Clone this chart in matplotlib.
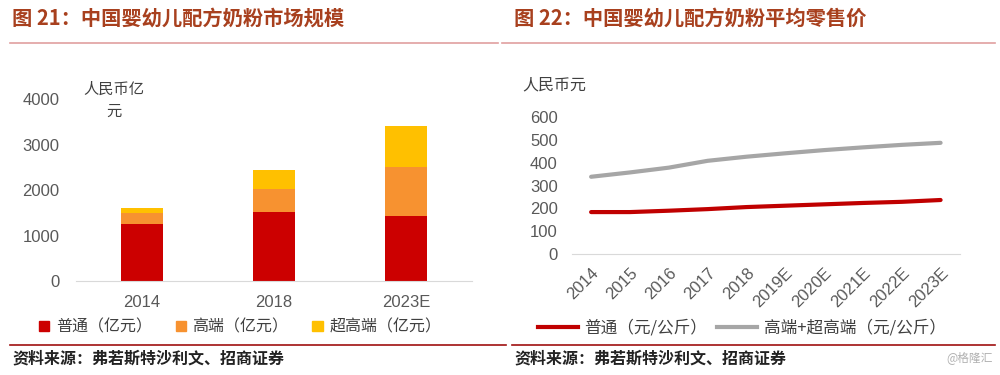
import matplotlib
matplotlib.use("Agg")
import matplotlib.pyplot as plt
from matplotlib.lines import Line2D
from matplotlib.patches import Patch
import numpy as np

plt.rcParams['font.family'] = ['Liberation Sans', 'Noto Sans CJK SC', 'DejaVu Sans']

# left chart: market size (亿元)
bar_years = ["2014", "2018", "2023E"]
normal = [1260, 1510, 1430]
premium = [245, 515, 1085]
super_premium = [95, 410, 905]

# right chart: average retail price (元/公斤)
line_years = ["2014", "2015", "2016", "2017", "2018",
              "2019E", "2020E", "2021E", "2022E", "2023E"]
price_normal = [184, 184, 190, 197, 206, 212, 218, 224, 229, 237]
price_high = [339, 358, 379, 409, 427, 442, 456, 468, 479, 488]

W, H = 1000, 375
fig = plt.figure(figsize=(W / 100, H / 100), dpi=100)

def px_axes(x0, y0, x1, y1):
    # pixel box (top-left origin) -> figure axes
    return fig.add_axes([x0 / W, 1 - y1 / H, (x1 - x0) / W, (y1 - y0) / H])

cjk = ['Noto Sans CJK SC', 'DejaVu Sans']
title_col = '#A8401E'
tick_col = '#595959'

# titles and rules
fig.text(12 / W, 1 - 18 / H, "图 21：中国婴幼儿配方奶粉市场规模", family=cjk,
         fontsize=14.6, fontweight='bold', color=title_col, va='center')
fig.text(514 / W, 1 - 18 / H, "图 22：中国婴幼儿配方奶粉平均零售价", family=cjk,
         fontsize=14.6, fontweight='bold', color=title_col, va='center')
for xa, xb in [(10, 498), (502, 995)]:
    fig.add_artist(Line2D([xa / W, xb / W], [1 - 43 / H] * 2, color='#E0A0A0', lw=1.2))
for xa, xb in [(10, 506), (512, 995)]:
    fig.add_artist(Line2D([xa / W, xb / W], [1 - 345 / H] * 2, color='#A01010', lw=1.2))
fig.text(12 / W, 1 - 358 / H, "资料来源：弗若斯特沙利文、招商证券", family=cjk,
         fontsize=11.5, fontweight='bold', color='#222222', va='center')
fig.text(514 / W, 1 - 358 / H, "资料来源：弗若斯特沙利文、招商证券", family=cjk,
         fontsize=11.5, fontweight='bold', color='#222222', va='center')
fig.text(993 / W, 1 - 358 / H, "@格隆汇", family=cjk, fontsize=8.5,
         color='#B0B0B0', va='center', ha='right')

# left: stacked bars
ax1 = px_axes(76, 99.3, 472, 281)
x = np.arange(len(bar_years))
bw = 0.315
ax1.bar(x, normal, bw, color='#CC0000')
ax1.bar(x, premium, bw, bottom=normal, color='#F79230')
ax1.bar(x, super_premium, bw, bottom=np.add(normal, premium), color='#FFC000')
ax1.set_xlim(-0.5, 2.5)
ax1.set_ylim(0, 4000)
ax1.set_yticks([0, 1000, 2000, 3000, 4000])
ax1.set_xticks(x)
ax1.set_xticklabels(bar_years)
for s in ['top', 'right', 'left']:
    ax1.spines[s].set_visible(False)
ax1.spines['bottom'].set_color('#D9D9D9')
ax1.tick_params(length=0, labelsize=12, colors=tick_col)
ax1.tick_params(axis='x', pad=10)
ax1.tick_params(axis='y', pad=12)
fig.text(114 / W, 1 - 100 / H, "人民币亿\n元", family=cjk,
         fontsize=11, color='#404040', ha='center', va='center', multialignment='center',
         linespacing=1.4)

handles1 = [Patch(color='#CC0000'), Patch(color='#F79230'), Patch(color='#FFC000')]
fig.legend(handles1, ["普通（亿元）", "高端（亿元）", "超高端（亿元）"],
           loc='center', bbox_to_anchor=(240 / W, 1 - 327 / H), ncol=3, frameon=False,
           prop={'family': cjk, 'size': 11.5}, labelcolor='#404040',
           handlelength=0.65, handleheight=0.65, handletextpad=0.4, columnspacing=1.5)

# right: lines
ax2 = px_axes(571.7, 117.3, 960, 254)
xl = np.arange(len(line_years))
ax2.plot(xl, price_normal, color='#C00000', lw=3, solid_capstyle='round')
ax2.plot(xl, price_high, color='#A6A6A6', lw=3, solid_capstyle='round')
ax2.set_xlim(-0.5, 9.5)
ax2.set_ylim(0, 600)
ax2.set_yticks(range(0, 601, 100))
ax2.set_xticks(xl)
ax2.set_xticklabels(line_years, rotation=45, ha='right', rotation_mode='anchor')
for s in ['top', 'right', 'left']:
    ax2.spines[s].set_visible(False)
ax2.spines['bottom'].set_color('#D9D9D9')
ax2.tick_params(length=0, labelsize=12, colors=tick_col)
ax2.tick_params(axis='x', pad=8)
ax2.tick_params(axis='y', pad=10)
fig.text(522 / W, 1 - 85 / H, "人民币元", family=cjk, fontsize=11.5,
         color='#404040', va='center')

handles2 = [Line2D([], [], color='#C00000', lw=3), Line2D([], [], color='#A6A6A6', lw=3)]
fig.legend(handles2, ["普通（元/公斤）", "高端+超高端（元/公斤）"],
           loc='center', bbox_to_anchor=(742 / W, 1 - 328 / H), ncol=2, frameon=False,
           prop={'family': cjk, 'size': 12}, labelcolor='#404040',
           handlelength=2.4, handletextpad=0.4, columnspacing=0.6)

fig.savefig("out.png", dpi=100)
